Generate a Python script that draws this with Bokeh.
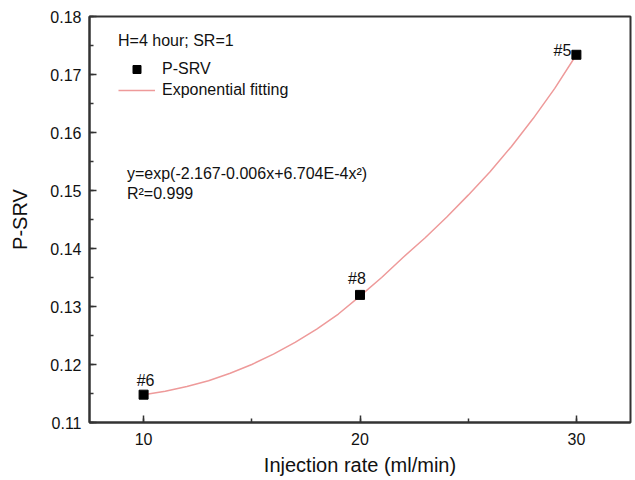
from bokeh.plotting import figure
from bokeh.models import (ColumnDataSource, Legend, LegendItem, Label,
                          SingleIntervalTicker, PrintfTickFormatter)
from bokeh.core.properties import value
from bokeh.embed import file_html
from bokeh.resources import INLINE

# ---- data ----
rate = [10, 20, 30]
psrv = [0.1148, 0.1320, 0.1734]
sample = ["#6", "#8", "#5"]

fit_x = [10, 11, 12, 13, 14, 15, 16, 17, 18, 19, 20,
         21, 22, 23, 24, 25, 26, 27, 28, 29, 30]
fit_y = [0.1148, 0.1154, 0.1162, 0.1172, 0.1185, 0.1200, 0.1218, 0.1238, 0.1261, 0.1287, 0.1318,
         0.1350, 0.1385, 0.1418, 0.1454, 0.1492, 0.1532, 0.1576, 0.1624, 0.1676, 0.1734]

x_ticks_interval = 10
y_ticks_interval = 0.01

FONT = "Liberation Sans"
AX = "#333333"
TXT = "#111111"

p = figure(frame_width=541, frame_height=406, x_range=(7.5, 32.5), y_range=(0.11, 0.18),
           output_backend="svg", toolbar_location=None,
           min_border_left=89, min_border_top=16, min_border_right=3, min_border_bottom=54)
p.background_fill_color = "white"
p.border_fill_color = "white"
p.grid.visible = False
p.outline_line_color = AX
p.outline_line_width = 2

p.xaxis.ticker = SingleIntervalTicker(interval=x_ticks_interval, num_minor_ticks=2)
p.yaxis.ticker = SingleIntervalTicker(interval=y_ticks_interval, num_minor_ticks=2)
p.xaxis.formatter = PrintfTickFormatter(format="%d")
p.yaxis.formatter = PrintfTickFormatter(format="%.2f")

for ax in (p.xaxis, p.yaxis):
    ax.axis_line_color = AX
    ax.axis_line_width = 2
    ax.major_tick_line_color = AX
    ax.minor_tick_line_color = AX
    ax.major_tick_line_width = 1.5
    ax.minor_tick_line_width = 1.5
    ax.major_tick_in = 7
    ax.major_tick_out = 0
    ax.minor_tick_in = 4
    ax.minor_tick_out = 0
    ax.major_label_text_font = FONT
    ax.major_label_text_font_size = "16px"
    ax.major_label_text_color = TXT
    ax.axis_label_text_font = FONT
    ax.axis_label_text_font_size = "20px"
    ax.axis_label_text_font_style = "normal"
    ax.axis_label_text_color = TXT

p.xaxis.axis_label = "Injection rate (ml/min)"
p.yaxis.axis_label = "P-SRV"
p.xaxis.major_label_standoff = 10
p.yaxis.major_label_standoff = 8
p.xaxis.axis_label_standoff = 6
p.yaxis.axis_label_standoff = 16

fit_src = ColumnDataSource(dict(x=fit_x, y=fit_y))
pts_src = ColumnDataSource(dict(x=rate, y=psrv, label=sample))

line_r = p.line("x", "y", source=fit_src, line_color="#ee9a9a", line_width=1.5)
pts_r = p.scatter("x", "y", source=pts_src, marker="square", size=9,
                  fill_color="black", line_color="black")

# point labels
lab_x_off = [2, -3, -5]
lab_y_off = [-14, -16, -4]
lab_align = ["center", "center", "right"]
pts_src.data["xo"] = lab_x_off
pts_src.data["yo"] = lab_y_off
pts_src.data["al"] = lab_align
p.text("x", "y", text="label", source=pts_src, x_offset="xo", y_offset="yo",
       text_align="al", text_baseline="middle", text_font=value(FONT),
       text_font_size="16px", text_color=TXT)

legend = Legend(items=[LegendItem(label="P-SRV", renderers=[pts_r]),
                       LegendItem(label="Exponential fitting", renderers=[line_r])],
                title="H=4 hour; SR=1", location=(29, 322))
legend.title_text_font = FONT
legend.title_text_font_size = "16px"
legend.title_text_font_style = "normal"
legend.title_text_color = TXT
legend.title_standoff = 9
legend.label_text_font = FONT
legend.label_text_font_size = "16px"
legend.label_text_color = TXT
legend.glyph_width = 37
legend.glyph_height = 20
legend.label_height = 20
legend.spacing = 1
legend.label_standoff = 7
legend.padding = 0
legend.margin = 0
legend.border_line_color = None
legend.background_fill_alpha = 0
p.add_layout(legend)

eq1 = Label(x=9.23, y=0.1529, text="y=exp(-2.167-0.006x+6.704E-4x\u00b2)",
            text_font=FONT, text_font_size="16px", text_color=TXT, text_baseline="middle")
eq2 = Label(x=9.23, y=0.1494, text="R\u00b2=0.999",
            text_font=FONT, text_font_size="16px", text_color=TXT, text_baseline="middle")
p.add_layout(eq1)
p.add_layout(eq2)

open("out.html", "w").write(file_html(p, INLINE))
